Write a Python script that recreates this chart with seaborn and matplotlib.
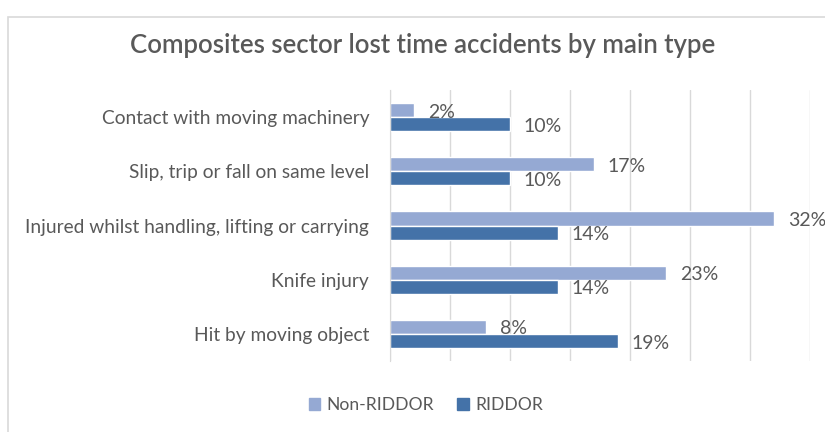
import pandas as pd
import matplotlib.pyplot as plt
import matplotlib.patches as mpatches
import seaborn as sns

# chart data
categories = ["Contact with moving machinery",
              "Slip, trip or fall on same level",
              "Injured whilst handling, lifting or carrying",
              "Knife injury",
              "Hit by moving object"]
non_riddor = [2, 17, 32, 23, 8]
riddor = [10, 10, 14, 14, 19]
series = ["Non-RIDDOR", "RIDDOR"]

df = pd.DataFrame({"type": categories * 2,
                   "series": [series[0]] * 5 + [series[1]] * 5,
                   "value": non_riddor + riddor})

sns.set_style("white")
plt.rcParams['font.family'] = ['Lato', 'DejaVu Sans']
grey = "#595959"
colors = {"Non-RIDDOR": "#95A9D3", "RIDDOR": "#4472A8"}

fig = plt.figure(figsize=(8.25, 4.32), dpi=100)
ax = fig.add_axes([390 / 825, 1 - 361 / 432, 420 / 825, 271 / 432])

sns.barplot(data=df, y="type", x="value", hue="series", hue_order=series,
            palette=colors, orient="h", width=0.52, ax=ax, legend=False,
            saturation=1)

ax.set_xlim(0, 35)
ax.set_xticks(range(0, 36, 5))
ax.xaxis.grid(True, color="#D9D9D9", linewidth=1)
ax.set_axisbelow(True)
ax.tick_params(axis="x", labelbottom=False, length=0)
ax.tick_params(axis="y", length=0, pad=15, labelsize=13.8, labelcolor=grey)
ax.set_xlabel("")
ax.set_ylabel("")
for s in ["top", "right", "bottom"]:
    ax.spines[s].set_visible(False)
ax.spines["left"].set_color("#D9D9D9")

# data labels just past the bar end, a touch lower like Excel
for cont in ax.containers:
    anns = ax.bar_label(cont, labels=["{}%".format(int(v)) for v in cont.datavalues],
                        padding=10, fontsize=14, color=grey)
    for a in anns:
        a.xyann = (10, -1.5)

fig.text(0.512, 1 - 46 / 432, "Composites sector lost time accidents by main type",
         ha="center", va="center", fontsize=18.5, color=grey, fontweight="semibold")

handles = [mpatches.Patch(color=colors[s], label=s) for s in series]
fig.legend(handles=handles, loc="center", bbox_to_anchor=(426 / 825, 1 - 405 / 432),
           ncol=2, frameon=False, fontsize=12.6, labelcolor=grey,
           handlelength=0.65, handleheight=0.65, handletextpad=0.4, columnspacing=1.3)

border = mpatches.Rectangle((8 / 825, -0.1), 1.1, 1.1 - 17 / 432,
                            transform=fig.transFigure, fill=False,
                            edgecolor="#D9D9D9", linewidth=1.2)
fig.patches.append(border)

plt.savefig("out.png", dpi=100)
